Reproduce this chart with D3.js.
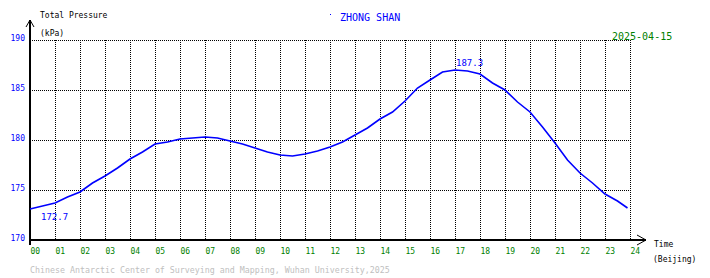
<!DOCTYPE html>
<html>
<head>
<meta charset="utf-8">
<script src="https://cdn.jsdelivr.net/npm/d3@7"></script>
<style>
  body { margin: 0; background: #fff; }
  text { font-family: "DejaVu Sans Mono", monospace; }
</style>
</head>
<body>
<div id="chart"></div>
<script>
// half-hourly readings, Beijing time
var hours = [0, 0.5, 1, 1.5, 2, 2.5, 3, 3.5, 4, 4.5, 5, 5.5, 6, 6.5, 7, 7.5, 8, 8.5, 9, 9.5,
  10, 10.5, 11, 11.5, 12, 12.5, 13, 13.5, 14, 14.5, 15, 15.5, 16, 16.5, 17, 17.5, 18, 18.5,
  19, 19.5, 20, 20.5, 21, 21.5, 22, 22.5, 23, 23.5, 23.9];
var pressure = [173.1, 173.4, 173.7, 174.3, 174.8, 175.7, 176.4, 177.2, 178.1, 178.8, 179.6,
  179.8, 180.1, 180.2, 180.3, 180.2, 179.9, 179.6, 179.2, 178.8, 178.5, 178.4, 178.6, 178.9,
  179.3, 179.8, 180.5, 181.2, 182.1, 182.8, 183.9, 185.2, 186.0, 186.8, 187.0, 186.9, 186.6,
  185.7, 185.0, 183.8, 182.8, 181.3, 179.7, 178.0, 176.7, 175.7, 174.6, 173.9, 173.2];
var yTicks = [170, 175, 180, 185, 190];
var xTicks = d3.range(0, 25);
var minPoint = {t: 0.44, v: 172.7};
var maxPoint = {t: 17.04, v: 187.3};
var station = "ZHONG SHAN";
var day = "2025-04-15";

var width = 710, height = 278;
var x = d3.scaleLinear().domain([0, 24]).range([30, 630]);
var y = d3.scaleLinear().domain([170, 190]).range([240, 40]);

var svg = d3.select("#chart").append("svg")
  .attr("width", width)
  .attr("height", height);

// dotted grid
var grid = svg.append("g")
  .attr("stroke", "#000")
  .attr("stroke-width", 1)
  .attr("stroke-dasharray", "1,1")
  .attr("shape-rendering", "crispEdges");
grid.selectAll(".hgrid")
  .data(yTicks.slice(1))
  .enter().append("line")
  .attr("x1", x(0)).attr("x2", x(24))
  .attr("y1", function(d) { return Math.round(y(d)) + 0.5; })
  .attr("y2", function(d) { return Math.round(y(d)) + 0.5; });
grid.selectAll(".vgrid")
  .data(xTicks.slice(1))
  .enter().append("line")
  .attr("y1", y(190)).attr("y2", y(170))
  .attr("x1", function(d) { return Math.round(x(d)) + 0.5; })
  .attr("x2", function(d) { return Math.round(x(d)) + 0.5; });

// y axis labels
var yAxis = d3.axisLeft(y).tickValues(yTicks).tickSize(0).tickPadding(0);
var gy = svg.append("g").attr("transform", "translate(25,0)").call(yAxis);
gy.select(".domain").remove();
gy.selectAll("text")
  .attr("dy", 0)
  .attr("fill", "#0000ff")
  .style("font-size", "8px");

// x axis labels
var xAxis = d3.axisBottom(x).tickValues(xTicks).tickSize(0).tickPadding(0)
  .tickFormat(function(d) { return d3.format("02d")(d); });
var gx = svg.append("g").attr("transform", "translate(0,254)").call(xAxis);
gx.select(".domain").remove();
gx.selectAll("text")
  .attr("dy", 0)
  .attr("y", 0)
  .attr("text-anchor", "start")
  .attr("fill", "#008000")
  .style("font-size", "8px");

// axis lines with arrows
var axes = svg.append("g").attr("stroke", "#000").attr("fill", "none");
axes.append("line").attr("x1", 30).attr("x2", 30).attr("y1", 20).attr("y2", 245).attr("stroke-width", 2);
axes.append("line").attr("x1", 30).attr("x2", 646).attr("y1", 240).attr("y2", 240).attr("stroke-width", 2);
axes.append("path").attr("d", "M26,27L30,20L34,27").attr("stroke-width", 1);
axes.append("path").attr("d", "M637,235L646,240L637,245").attr("stroke-width", 1);

// pressure trace
var line = d3.line()
  .x(function(d, i) { return x(hours[i]); })
  .y(function(d) { return y(d); });
svg.append("path")
  .datum(pressure)
  .attr("fill", "none")
  .attr("stroke", "#0000ff")
  .attr("stroke-width", 1.6)
  .attr("d", line);

// min / max annotations
svg.append("text").attr("x", x(minPoint.t)).attr("y", y(minPoint.v) + 7)
  .attr("fill", "#0000ff").style("font-size", "9px").text(minPoint.v.toFixed(1));
svg.append("text").attr("x", x(maxPoint.t)).attr("y", y(maxPoint.v) - 1)
  .attr("fill", "#0000ff").style("font-size", "9px").text(maxPoint.v.toFixed(1));

// titles
svg.append("text").attr("x", 40).attr("y", 18).style("font-size", "8px").text("Total Pressure");
svg.append("text").attr("x", 40).attr("y", 36).style("font-size", "8px").text("(kPa)");
svg.append("rect").attr("x", 330).attr("y", 14).attr("width", 1).attr("height", 1).attr("fill", "#0000ff");
svg.append("text").attr("x", 340).attr("y", 21).attr("fill", "#0000ff").style("font-size", "10px").text(station);
svg.append("text").attr("x", 612).attr("y", 40).attr("fill", "#008000").style("font-size", "10px").text(day);
svg.append("text").attr("x", 654).attr("y", 247).style("font-size", "8px").text("Time");
svg.append("text").attr("x", 653).attr("y", 262).style("font-size", "8px").text("(Beijing)");
svg.append("text").attr("x", 30).attr("y", 273).attr("fill", "#c0c0c0").style("font-size", "8.3px")
  .text("Chinese Antarctic Center of Surveying and Mapping, Wuhan University,2025");
</script>
</body>
</html>
